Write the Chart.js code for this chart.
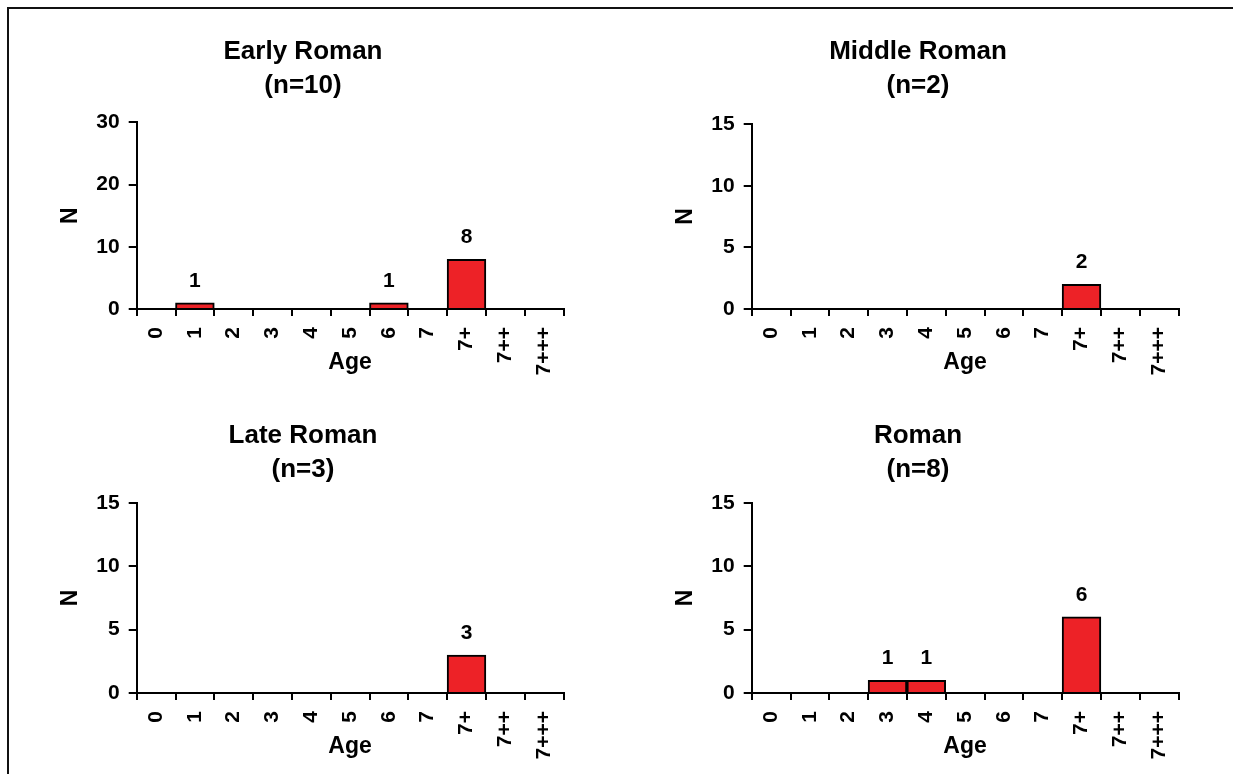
<!DOCTYPE html>
<html>
<head>
<meta charset="utf-8">
<title>Age distribution by period</title>
<script src="https://cdn.jsdelivr.net/npm/chart.js@4.4.1/dist/chart.umd.min.js"></script>
<style>
    body { margin: 0; background: #fff; }
    #page { position: relative; width: 1233px; height: 774px; overflow: hidden; }
    #frame {
        position: absolute; left: 7px; top: 7px; width: 1240px; height: 780px;
        border-top: 2px solid #111; border-left: 2px solid #111;
    }
    canvas { position: absolute; }
</style>
</head>
<body>
<div id="page">
    <div id="frame"></div>
    <canvas id="earlyCanvas" width="608" height="380" style="left:0px;top:0px"></canvas>
    <canvas id="middleCanvas" width="608" height="380" style="left:615px;top:0px"></canvas>
    <canvas id="lateCanvas" width="608" height="380" style="left:0px;top:384px"></canvas>
    <canvas id="romanCanvas" width="608" height="380" style="left:615px;top:384px"></canvas>
</div>
<script>
// age classes on the x axis
var ageLabels = ['0', '1', '2', '3', '4', '5', '6', '7', '7+', '7++', '7+++'];

// counts per age class, one array per period
var earlyRoman = [0, 1, 0, 0, 0, 0, 1, 0, 8, 0, 0];
var middleRoman = [0, 0, 0, 0, 0, 0, 0, 0, 2, 0, 0];
var lateRoman = [0, 0, 0, 0, 0, 0, 0, 0, 3, 0, 0];
var roman = [0, 0, 0, 1, 1, 0, 0, 0, 6, 0, 0];

var earlyTitle = ['Early Roman', '(n=10)'];
var middleTitle = ['Middle Roman', '(n=2)'];
var lateTitle = ['Late Roman', '(n=3)'];
var romanTitle = ['Roman', '(n=8)'];

var earlyTicks = [0, 10, 20, 30];
var otherTicks = [0, 5, 10, 15];

var fontFamily = '"Liberation Sans", Arial, Helvetica, sans-serif';
var barRed = '#ED2227';

// writes the count above every bar that is not empty
var barLabels = {
    id: 'barLabels',
    afterDatasetsDraw: function (chart) {
        var ctx = chart.ctx;
        var values = chart.data.datasets[0].data;
        var meta = chart.getDatasetMeta(0);
        ctx.save();
        ctx.font = 'bold 21px ' + fontFamily;
        ctx.fillStyle = '#000';
        ctx.textAlign = 'center';
        ctx.textBaseline = 'alphabetic';
        meta.data.forEach(function (bar, i) {
            if (values[i] > 0) {
                ctx.fillText(String(values[i]), bar.x, bar.y - 16);
            }
        });
        ctx.restore();
    }
};

function makeAgeChart(canvasId, titleLines, values, yTicks, titleGap) {
    var ctx = document.getElementById(canvasId).getContext('2d');
    return new Chart(ctx, {
        type: 'bar',
        data: {
            labels: ageLabels,
            datasets: [{
                data: values,
                backgroundColor: barRed,
                borderColor: '#000',
                borderWidth: 2,
                categoryPercentage: 1,
                barPercentage: 1
            }]
        },
        options: {
            responsive: false,
            animation: false,
            devicePixelRatio: 1,
            layout: {
                padding: { left: 42.5, right: 44.5, top: 0, bottom: 4 }
            },
            plugins: {
                legend: { display: false },
                tooltip: { enabled: false },
                title: {
                    display: true,
                    text: titleLines,
                    color: '#000',
                    font: { family: fontFamily, size: 26, weight: 'bold', lineHeight: 1.31 },
                    padding: { top: 34.7, bottom: titleGap }
                }
            },
            scales: {
                x: {
                    grid: {
                        display: true,
                        drawOnChartArea: false,
                        drawTicks: true,
                        tickLength: 7,
                        color: '#000',
                        lineWidth: 2
                    },
                    border: { display: true, color: '#000', width: 2 },
                    ticks: {
                        color: '#000',
                        minRotation: 90,
                        maxRotation: 90,
                        autoSkip: false,
                        padding: 11,
                        font: { family: fontFamily, size: 21, weight: 'bold' }
                    },
                    title: {
                        display: true,
                        text: 'Age',
                        color: '#000',
                        padding: 0,
                        font: { family: fontFamily, size: 23, weight: 'bold', lineHeight: 1.15 }
                    },
                    afterFit: function (scale) {
                        scale.height = 67;
                    }
                },
                y: {
                    min: 0,
                    max: yTicks[yTicks.length - 1],
                    afterBuildTicks: function (scale) {
                        scale.ticks = yTicks.map(function (v) { return { value: v }; });
                    },
                    grid: {
                        display: true,
                        drawOnChartArea: false,
                        drawTicks: true,
                        tickLength: 8,
                        color: '#000',
                        lineWidth: 2
                    },
                    border: { display: true, color: '#000', width: 2 },
                    ticks: {
                        color: '#000',
                        padding: 9,
                        font: { family: fontFamily, size: 21, weight: 'bold' }
                    },
                    title: {
                        display: true,
                        text: 'N',
                        color: '#000',
                        padding: { top: 15, bottom: 0 },
                        font: { family: fontFamily, size: 23, weight: 'bold', lineHeight: 1.15 }
                    },
                    afterFit: function (scale) {
                        scale.width = 94.2;
                    }
                }
            }
        },
        plugins: [barLabels]
    });
}

makeAgeChart('earlyCanvas', earlyTitle, earlyRoman, earlyTicks, 19.6);
makeAgeChart('middleCanvas', middleTitle, middleRoman, otherTicks, 21.3);
makeAgeChart('lateCanvas', lateTitle, lateRoman, otherTicks, 16);
makeAgeChart('romanCanvas', romanTitle, roman, otherTicks, 16);
</script>
</body>
</html>
